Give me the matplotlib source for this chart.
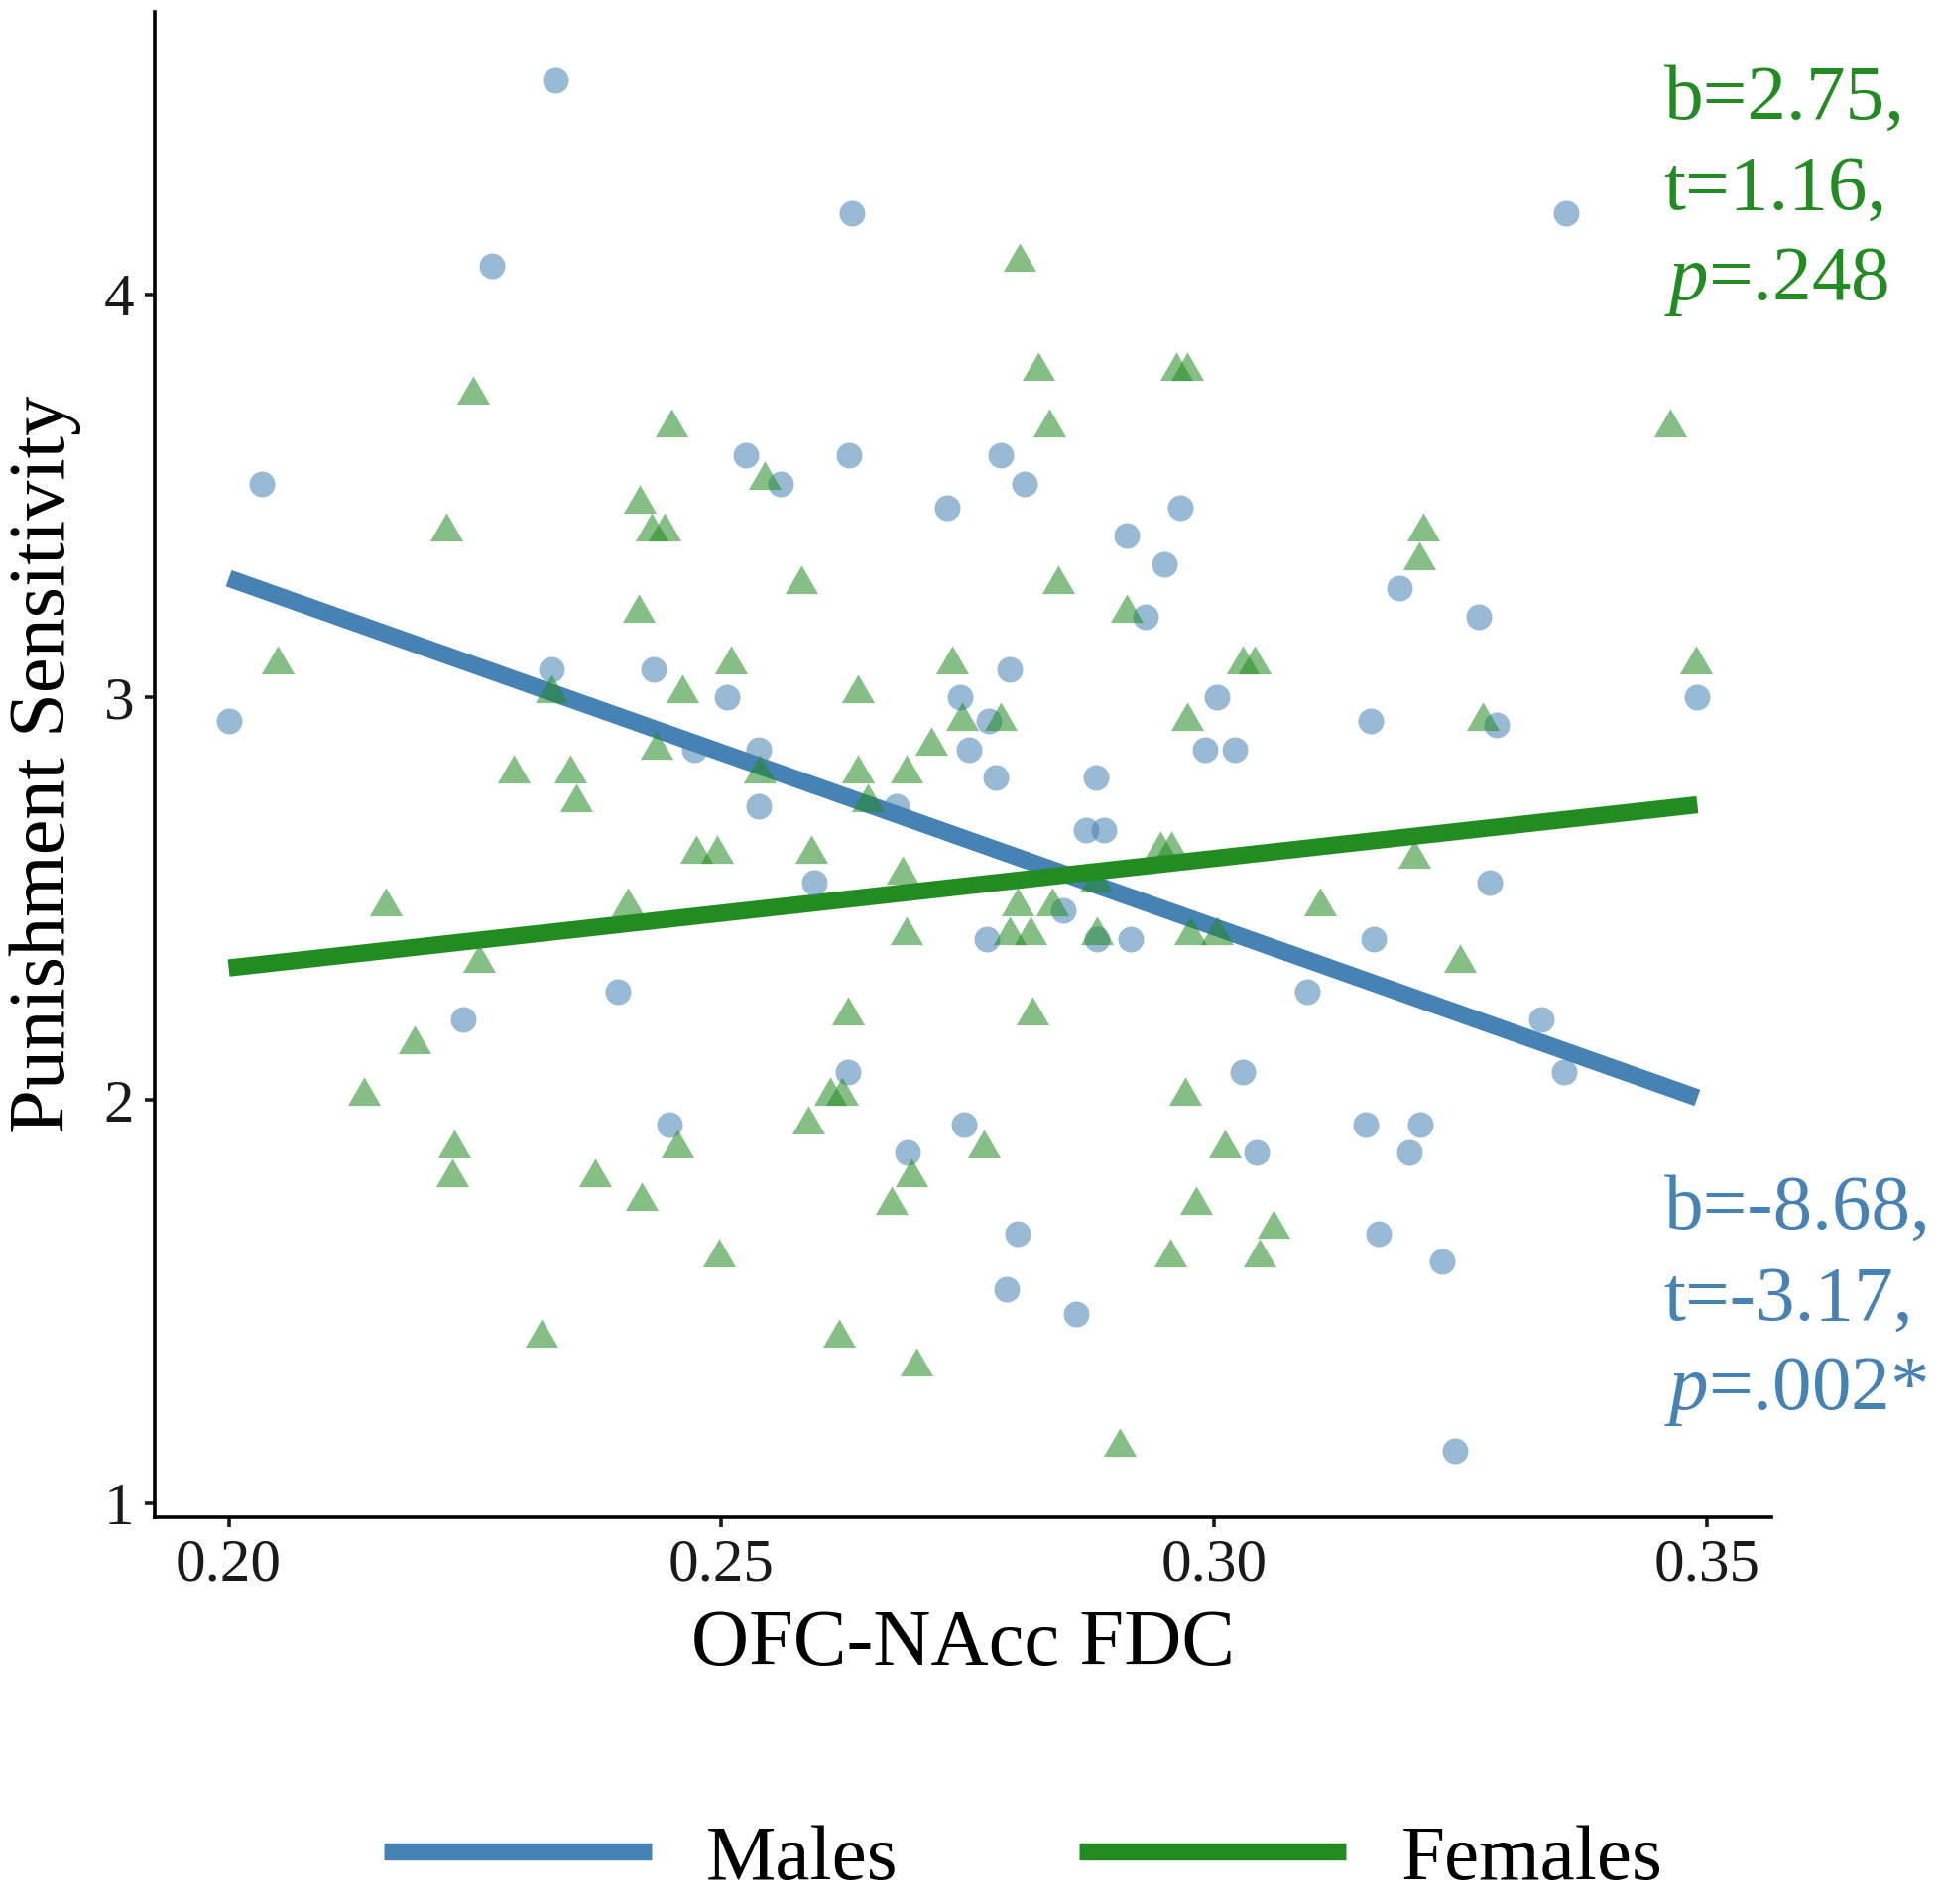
import numpy as np
import matplotlib
matplotlib.use("Agg")
import matplotlib.pyplot as plt
from matplotlib.lines import Line2D

plt.rcParams['font.family'] = ['Liberation Serif', 'DejaVu Serif']
plt.rcParams['mathtext.fontset'] = 'custom'
plt.rcParams['mathtext.rm'] = 'Liberation Serif'
plt.rcParams['mathtext.it'] = 'Liberation Serif:italic'

# ---- data ----
male_fdc = [0.2000, 0.2034, 0.2331, 0.2267, 0.2327, 0.2238, 0.2395, 0.2431, 0.2447, 0.2472,
            0.2506, 0.2525, 0.2560, 0.2538, 0.2538, 0.2594, 0.2632, 0.2629, 0.2628, 0.2678,
            0.2689, 0.2729, 0.2742, 0.2751, 0.2746, 0.2771, 0.2769, 0.2783, 0.2792, 0.2778,
            0.2807, 0.2800, 0.2789, 0.2847, 0.2860, 0.2870, 0.2888, 0.2880, 0.2881, 0.2911,
            0.2915, 0.2930, 0.2949, 0.2965, 0.3003, 0.2991, 0.3021, 0.3029, 0.3043, 0.3094,
            0.3159, 0.3162, 0.3154, 0.3167, 0.3188, 0.3198, 0.3209, 0.3231, 0.3244, 0.3268,
            0.3286, 0.3279, 0.3332, 0.3355, 0.3357, 0.3490]
male_ps = [2.94, 3.53, 4.53, 4.07, 3.07, 2.20, 2.27, 3.07, 1.94, 2.87,
           3.00, 3.60, 3.53, 2.87, 2.73, 2.54, 4.20, 3.60, 2.07, 2.73,
           1.87, 3.47, 3.00, 2.87, 1.94, 2.94, 2.40, 3.60, 3.07, 2.80,
           3.53, 1.67, 1.53, 2.47, 1.47, 2.67, 2.67, 2.80, 2.40, 3.40,
           2.40, 3.20, 3.33, 3.47, 3.00, 2.87, 2.87, 2.07, 1.87, 2.27,
           2.94, 2.40, 1.94, 1.67, 3.27, 1.87, 1.94, 1.60, 1.13, 3.20,
           2.93, 2.54, 2.20, 2.07, 4.20, 3.00]

female_fdc = [0.2050, 0.2137, 0.2159, 0.2189, 0.2221, 0.2229, 0.2227, 0.2248, 0.2254, 0.2289,
              0.2317, 0.2327, 0.2347, 0.2353, 0.2372, 0.2405, 0.2417, 0.2416, 0.2429, 0.2442,
              0.2434, 0.2419, 0.2449, 0.2460, 0.2455, 0.2474, 0.2495, 0.2497, 0.2510, 0.2539,
              0.2544, 0.2581, 0.2588, 0.2591, 0.2610, 0.2622, 0.2619, 0.2628, 0.2638, 0.2638,
              0.2648, 0.2673, 0.2688, 0.2684, 0.2688, 0.2693, 0.2698, 0.2713, 0.2734, 0.2744,
              0.2783, 0.2766, 0.2792, 0.2800, 0.2813, 0.2802, 0.2815, 0.2821, 0.2833, 0.2842,
              0.2836, 0.2881, 0.2880, 0.2904, 0.2911, 0.2945, 0.2956, 0.2961, 0.2972, 0.2955,
              0.2970, 0.2972, 0.2975, 0.2981, 0.3003, 0.3011, 0.3029, 0.3041, 0.3046, 0.3060,
              0.3107, 0.3203, 0.3208, 0.3212, 0.3249, 0.3272, 0.3462, 0.3489]
female_ps = [3.08, 2.01, 2.48, 2.14, 3.41, 1.88, 1.81, 3.75, 2.34, 2.81,
             1.41, 3.01, 2.81, 2.74, 1.81, 2.48, 3.48, 3.21, 3.41, 3.41,
             2.87, 1.75, 3.67, 3.01, 1.88, 2.61, 2.61, 1.61, 3.08, 2.81,
             3.54, 3.28, 1.94, 2.61, 2.01, 2.01, 1.41, 2.21, 3.01, 2.81,
             2.74, 1.74, 2.81, 2.56, 2.41, 1.81, 1.34, 2.88, 3.08, 2.94,
             2.94, 1.88, 2.41, 2.48, 2.41, 4.08, 2.21, 3.81, 3.67, 3.28,
             2.48, 2.41, 2.54, 1.14, 3.21, 2.62, 2.62, 3.81, 3.81, 1.61,
             2.01, 2.94, 2.41, 1.74, 2.41, 1.88, 3.08, 3.08, 1.61, 1.68,
             2.48, 2.60, 3.34, 3.41, 2.34, 2.94, 3.67, 3.08]

# fitted lines (end points)
fit_x = [0.200, 0.349]
male_fit = [3.295, 2.006]
female_fit = [2.328, 2.733]

male_stats = "b=-8.68,\nt=-3.17,\n$\\it{p}$=.002*"
female_stats = "b=2.75,\nt=1.16,\n$\\it{p}$=.248"

x_ticks = [0.20, 0.25, 0.30, 0.35]
x_tick_labels = ["0.20", "0.25", "0.30", "0.35"]
y_ticks = [1, 2, 3, 4]

male_col = "#4682B4"
female_col = "#228B22"

# equilateral triangle marker (ggplot shape 17 look)
tri = [(0, 0.577), (-0.5, -0.289), (0.5, -0.289), (0, 0.577)]

fig = plt.figure(figsize=(19.58, 19.20), dpi=100)
ax = fig.add_axes([0.0797, 0.2031, 0.8324, 0.7906])

ax.plot(fit_x, male_fit, color=male_col, lw=12.5, solid_capstyle='butt', zorder=2)
ax.plot(fit_x, female_fit, color=female_col, lw=12.5, solid_capstyle='butt', zorder=2)

ax.scatter(male_fdc, male_ps, s=350, color=male_col, alpha=0.55, linewidths=0, zorder=3)
ax.scatter(female_fdc, female_ps, s=760, marker=tri, color=female_col, alpha=0.55,
           linewidths=0, zorder=3)

ax.text(0.3456, 4.255, female_stats, color=female_col, fontsize=57, ha='left', va='center',
        linespacing=1.36, clip_on=False)
ax.text(0.3456, 1.50, male_stats, color=male_col, fontsize=57, ha='left', va='center',
        linespacing=1.36, clip_on=False)

ax.set_xlim(0.1925, 0.3565)
ax.set_ylim(0.965, 4.70)
ax.set_xticks(x_ticks)
ax.set_xticklabels(x_tick_labels)
ax.set_yticks(y_ticks)

for s in ['top', 'right']:
    ax.spines[s].set_visible(False)
for s in ['left', 'bottom']:
    ax.spines[s].set_linewidth(2.6)
ax.tick_params(axis='both', length=7, width=2.6, labelsize=44, colors='#1a1a1a', pad=8)

ax.set_xlabel("OFC-NAcc FDC", fontsize=58, labelpad=12)
ax.set_ylabel("Punishment Sensitivity", fontsize=58, labelpad=16)

handles = [Line2D([], [], color=male_col, lw=12.5, solid_capstyle='butt'),
           Line2D([], [], color=female_col, lw=12.5, solid_capstyle='butt')]
fig.legend(handles, ["Males", "Females"], loc='center', bbox_to_anchor=(0.527, 0.023),
           ncol=2, frameon=False, fontsize=57, handlelength=3.4, handletextpad=0.7,
           columnspacing=2.3, borderpad=0)

fig.savefig("out.png", dpi=100)
